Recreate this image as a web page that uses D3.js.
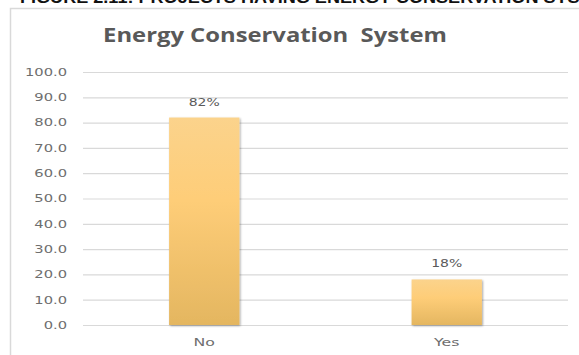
<!DOCTYPE html>
<html>
<head>
<meta charset="utf-8">
<script src="https://cdn.jsdelivr.net/npm/d3@7"></script>
<style>
  html, body { margin: 0; padding: 0; background: #fff; }
  svg { display: block; }
</style>
</head>
<body>
<svg id="chart" width="579" height="355"></svg>
<script>
// Share of projects with an energy conservation system
const categories = ["No", "Yes"];
const values = [82, 18];
const valueLabels = ["82%", "18%"];
const tickValues = [0, 10, 20, 30, 40, 50, 60, 70, 80, 90, 100];

const svg = d3.select("#chart");
const W = 579, H = 355;
const plot = { left: 83, right: 568, top: 72, bottom: 325 };
const STRETCH = 1.4; // wide lettering used for the chart's small labels

// Widen a text horizontally about its own anchor point
function stretch(sel, sx) {
  sel.each(function () {
    const t = d3.select(this);
    const ax = +t.attr("x") || 0;
    t.attr("transform", `translate(${ax},0) scale(${sx},1) translate(${-ax},0)`);
  });
}

// Figure caption, partly cut at the top edge
svg.append("text")
  .attr("x", 20).attr("y", 3)
  .attr("font-family", "Liberation Sans, Arial, sans-serif")
  .attr("font-weight", "bold")
  .attr("font-size", 16)
  .attr("fill", "#111")
  .text("FIGURE 2.11: PROJECTS HAVING ENERGY CONSERVATION SYSTEM")
  .call(stretch, 1.13);

// Chart frame (top and left edges)
svg.append("path")
  .attr("d", `M10.5,${H} L10.5,8.5 L${W},8.5`)
  .attr("fill", "none")
  .attr("stroke", "#d9d9d9")
  .attr("stroke-width", 1.5);

// Chart title
const title = svg.append("text")
  .attr("x", 275).attr("y", 42)
  .attr("text-anchor", "middle")
  .attr("font-family", "Open Sans, sans-serif")
  .attr("font-weight", "bold")
  .attr("font-size", 19.5)
  .attr("fill", "#595959")
  .attr("xml:space", "preserve")
  .text("Energy Conservation  System");
const titleLen = title.node().getComputedTextLength();
title.call(stretch, 344 / titleLen);

const x = d3.scaleBand()
  .domain(categories)
  .range([plot.left, plot.right])
  .paddingInner(0.71)
  .paddingOuter(0.355);

const y = d3.scaleLinear()
  .domain([0, 100])
  .range([plot.bottom, plot.top]);

// Gradient fill for the bars
const defs = svg.append("defs");
const grad = defs.append("linearGradient")
  .attr("id", "barFill")
  .attr("x1", 0).attr("y1", 0).attr("x2", 0).attr("y2", 1);
grad.append("stop").attr("offset", "0%").attr("stop-color", "#fbd38c");
grad.append("stop").attr("offset", "40%").attr("stop-color", "#fecd78");
grad.append("stop").attr("offset", "100%").attr("stop-color", "#e4b660");

const shadow = defs.append("filter").attr("id", "barShadow")
  .attr("x", "-10%").attr("y", "-5%").attr("width", "120%").attr("height", "110%");
shadow.append("feGaussianBlur").attr("in", "SourceAlpha").attr("stdDeviation", 1.2).attr("result", "b");
shadow.append("feOffset").attr("in", "b").attr("dx", 0.5).attr("dy", 0.5).attr("result", "o");
shadow.append("feComponentTransfer").attr("in", "o").attr("result", "s")
  .append("feFuncA").attr("type", "linear").attr("slope", 0.35);
const merge = shadow.append("feMerge");
merge.append("feMergeNode").attr("in", "s");
merge.append("feMergeNode").attr("in", "SourceGraphic");

// Y axis: gridlines and tick labels
const yAxis = d3.axisLeft(y)
  .tickValues(tickValues)
  .tickSize(-(plot.right - plot.left))
  .tickPadding(16)
  .tickFormat(d3.format(".1f"));

const gy = svg.append("g")
  .attr("transform", `translate(${plot.left},0)`)
  .call(yAxis);
gy.select(".domain").remove();
gy.selectAll(".tick line")
  .attr("stroke", "#d9d9d9")
  .attr("stroke-width", 1.2);
gy.selectAll(".tick text")
  .attr("font-family", "DejaVu Sans, sans-serif")
  .attr("font-size", 10.5)
  .attr("fill", "#6e6e6e")
  .call(stretch, STRETCH);

// Bars
svg.append("g").selectAll("rect")
  .data(values)
  .join("rect")
  .attr("x", (d, i) => x(categories[i]))
  .attr("y", d => y(d))
  .attr("width", x.bandwidth())
  .attr("height", d => y(0) - y(d))
  .attr("fill", "url(#barFill)")
  .attr("filter", "url(#barShadow)");

// Value labels
svg.append("g").selectAll("text")
  .data(values)
  .join("text")
  .attr("x", (d, i) => x(categories[i]) + x.bandwidth() / 2)
  .attr("y", d => y(d) - 12)
  .attr("text-anchor", "middle")
  .attr("font-family", "DejaVu Sans, sans-serif")
  .attr("font-size", 10)
  .attr("fill", "#5a5a5a")
  .text((d, i) => valueLabels[i])
  .call(stretch, STRETCH);

// Category labels
const xAxis = d3.axisBottom(x).tickSize(0).tickPadding(14);
const gx = svg.append("g")
  .attr("transform", `translate(0,${plot.bottom})`)
  .call(xAxis);
gx.select(".domain").remove();
gx.selectAll(".tick text")
  .attr("font-family", "DejaVu Sans, sans-serif")
  .attr("font-size", 10.5)
  .attr("fill", "#6e6e6e")
  .call(stretch, 1.5);
</script>
</body>
</html>
